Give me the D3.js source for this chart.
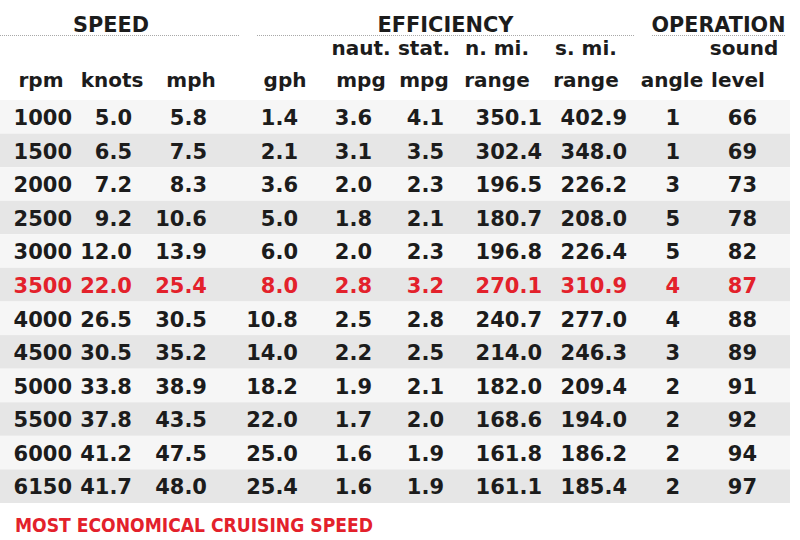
<!DOCTYPE html>
<html>
<head>
<meta charset="utf-8">
<script src="https://cdn.jsdelivr.net/npm/d3@7"></script>
<style>
  body { margin: 0; background: #fff; }
  text { font-family: "DejaVu Sans", sans-serif; font-weight: bold; }
</style>
</head>
<body>
<div class="chart"></div>
<script>
// DATA ------------------------------
const rpm      = [1000, 1500, 2000, 2500, 3000, 3500, 4000, 4500, 5000, 5500, 6000, 6150];
const knots    = [5.0, 6.5, 7.2, 9.2, 12.0, 22.0, 26.5, 30.5, 33.8, 37.8, 41.2, 41.7];
const mph      = [5.8, 7.5, 8.3, 10.6, 13.9, 25.4, 30.5, 35.2, 38.9, 43.5, 47.5, 48.0];
const gph      = [1.4, 2.1, 3.6, 5.0, 6.0, 8.0, 10.8, 14.0, 18.2, 22.0, 25.0, 25.4];
const nautMpg  = [3.6, 3.1, 2.0, 1.8, 2.0, 2.8, 2.5, 2.2, 1.9, 1.7, 1.6, 1.6];
const statMpg  = [4.1, 3.5, 2.3, 2.1, 2.3, 3.2, 2.8, 2.5, 2.1, 2.0, 1.9, 1.9];
const nmiRange = [350.1, 302.4, 196.5, 180.7, 196.8, 270.1, 240.7, 214.0, 182.0, 168.6, 161.8, 161.1];
const smiRange = [402.9, 348.0, 226.2, 208.0, 226.4, 310.9, 277.0, 246.3, 209.4, 194.0, 186.2, 185.4];
const angle    = [1, 1, 3, 5, 5, 4, 4, 3, 2, 2, 2, 2];
const sound    = [66, 69, 73, 78, 82, 87, 88, 89, 91, 92, 94, 97];

const groups   = ["SPEED", "EFFICIENCY", "OPERATION"];
const footnote = "MOST ECONOMICAL CRUISING SPEED";
const bestRpm  = 3500;

// LAYOUT ----------------------------
const width = 800, height = 540;
const ink = "#1c1c1c", red = "#e3212b";

// columns: header lines, where values end, where header is centred
const columns = [
  {vals: rpm,      top: "",       sub: "rpm",   end: 72,  mid: 41,  fmt: d3.format("d")},
  {vals: knots,    top: "",       sub: "knots", end: 132, mid: 112, fmt: d3.format(".1f")},
  {vals: mph,      top: "",       sub: "mph",   end: 207, mid: 191, fmt: d3.format(".1f")},
  {vals: gph,      top: "",       sub: "gph",   end: 298, mid: 285, fmt: d3.format(".1f")},
  {vals: nautMpg,  top: "naut.",  sub: "mpg",   end: 372, mid: 361, fmt: d3.format(".1f")},
  {vals: statMpg,  top: "stat.",  sub: "mpg",   end: 444, mid: 424, fmt: d3.format(".1f")},
  {vals: nmiRange, top: "n. mi.", sub: "range", end: 542, mid: 497, fmt: d3.format(".1f")},
  {vals: smiRange, top: "s. mi.", sub: "range", end: 627, mid: 586, fmt: d3.format(".1f")},
  {vals: angle,    top: "",       sub: "angle", end: 680, mid: 672, fmt: d3.format("d")},
  {vals: sound,    top: "sound",  sub: "level", end: 757, mid: 738, fmt: d3.format("d")}
];
const groupSpan = [[0, 240], [257, 634], [652, 785]];
const groupLen  = [76, 136, 134];

const svg = d3.select(".chart")
  .append("svg")
  .attr("width", width)
  .attr("height", height);

// row scale
const y = d3.scaleBand()
  .domain(rpm)
  .range([100, 503]);

// group titles and rules
const g = svg.selectAll(".group")
  .data(groups)
  .enter()
  .append("g")
  .attr("class", "group");

g.append("text")
  .attr("x", (d, i) => (groupSpan[i][0] + groupSpan[i][1]) / 2 + (i == 0 ? -9 : 0))
  .attr("y", 32)
  .attr("text-anchor", "middle")
  .attr("font-size", "22px")
  .attr("textLength", (d, i) => groupLen[i])
  .attr("lengthAdjust", "spacingAndGlyphs")
  .attr("fill", ink)
  .text(d => d);

g.append("line")
  .attr("x1", (d, i) => groupSpan[i][0])
  .attr("x2", (d, i) => groupSpan[i][1])
  .attr("y1", 35.5)
  .attr("y2", 35.5)
  .attr("stroke", "#a8a8a8")
  .attr("stroke-width", 1)
  .attr("stroke-dasharray", "1,1");

// column headers
svg.selectAll(".top")
  .data(columns.filter(c => c.top))
  .enter()
  .append("text")
  .attr("x", d => d.top == "sound" ? 744 : d.mid)
  .attr("y", 55)
  .attr("text-anchor", "middle")
  .attr("font-size", "20px")
  .attr("fill", ink)
  .text(d => d.top);

svg.selectAll(".sub")
  .data(columns)
  .enter()
  .append("text")
  .attr("x", d => d.mid)
  .attr("y", 87)
  .attr("text-anchor", "middle")
  .attr("font-size", "20px")
  .attr("fill", ink)
  .text(d => d.sub);

// row stripes
svg.selectAll(".stripe")
  .data(rpm)
  .enter()
  .append("rect")
  .attr("x", 0)
  .attr("width", 790)
  .attr("y", d => y(d))
  .attr("height", y.bandwidth())
  .attr("fill", (d, i) => i % 2 ? "#e6e6e6" : "#f6f6f6");

// cells
const rows = svg.selectAll(".row")
  .data(rpm)
  .enter()
  .append("g")
  .attr("class", "row")
  .attr("transform", d => `translate(0, ${y(d) + 25})`)
  .attr("fill", d => d == bestRpm ? red : ink);

rows.selectAll("text")
  .data((d, i) => columns.map(c => ({c: c, v: c.vals[i]})))
  .enter()
  .append("text")
  .attr("x", d => d.c.end)
  .attr("text-anchor", "end")
  .attr("font-size", "21px")
  .text(d => d.c.fmt(d.v));

// footnote
svg.append("text")
  .attr("x", 15)
  .attr("y", 532)
  .attr("font-size", "19.5px")
  .attr("textLength", 358)
  .attr("lengthAdjust", "spacingAndGlyphs")
  .attr("fill", red)
  .text(footnote);
</script>
</body>
</html>
